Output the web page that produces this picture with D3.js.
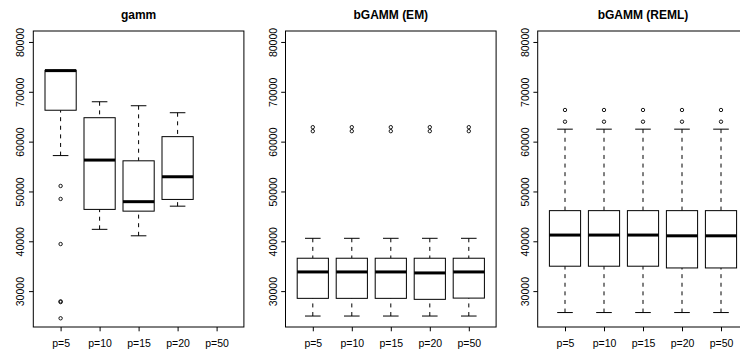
<!DOCTYPE html>
<html>
<head>
<meta charset="utf-8">
<script src="https://cdn.jsdelivr.net/npm/d3@7"></script>
<style>
body { margin: 0; background: #fff; }
text { font-family: "Liberation Sans", Arial, Helvetica, sans-serif; fill: #000; }
</style>
</head>
<body>
<div id="chart"></div>
<script>
var groups = ["p=5", "p=10", "p=15", "p=20", "p=50"];
var titles = ["gamm", "bGAMM (EM)", "bGAMM (REML)"];
var yTicks = [30000, 40000, 50000, 60000, 70000, 80000];
var yLimits = [25000, 80000];

// each box: [lower whisker, Q1, median, Q3, upper whisker], null = no data
var gammStats = [
    [57200, 66300, 74250, 74300, 74300],
    [42400, 46400, 56300, 64800, 68000],
    [41100, 46050, 47950, 56150, 67200],
    [47050, 48400, 52950, 61000, 65800],
    null
];
var gammOutliers = [[51100, 48500, 39450, 27800, 27950, 24550], [], [], [], []];

var emStats = [
    [25000, 28550, 33850, 36600, 40600],
    [25000, 28550, 33850, 36600, 40600],
    [25000, 28550, 33850, 36600, 40600],
    [25000, 28350, 33650, 36600, 40600],
    [25000, 28600, 33850, 36600, 40600]
];
var emOutliers = [[62900, 62100], [62900, 62100], [62900, 62100], [62900, 62100], [62900, 62100]];

var remlStats = [
    [25700, 35000, 41250, 46150, 62500],
    [25700, 35000, 41250, 46150, 62500],
    [25700, 35000, 41250, 46150, 62500],
    [25700, 34650, 41100, 46150, 62500],
    [25700, 34650, 41100, 46150, 62500]
];
var remlOutliers = [[64000, 66350], [64000, 66350], [64000, 66350], [64000, 66350], [64000, 66350]];

var panels = [
    {stats: gammStats, out: gammOutliers},
    {stats: emStats, out: emOutliers},
    {stats: remlStats, out: remlOutliers}
];

var width = 740, height = 354;
var panelStep = 252.2;
var margin = {left: 33.3, top: 31, bottom: 27};
var plotW = 210.6;
var tickLen = 4.3;

var svg = d3.select("#chart").append("svg")
    .attr("width", width)
    .attr("height", height);

// R style 4% extension of the limits
var ext = 0.04 * (yLimits[1] - yLimits[0]);
var yScale = d3.scaleLinear()
    .domain([yLimits[0] - ext, yLimits[1] + ext])
    .range([height - margin.bottom, margin.top]);

panels.forEach(function(p, k) {
    var x0 = k * panelStep + margin.left;
    var xScale = d3.scaleLinear()
        .domain([0.3, groups.length + 0.7])
        .range([x0, x0 + plotW]);
    var g = svg.append("g");

    g.append("text")
        .attr("x", x0 + plotW / 2)
        .attr("y", 18.5)
        .attr("text-anchor", "middle")
        .style("font-weight", "bold")
        .style("font-size", "12px")
        .text(titles[k]);

    var bw = xScale(0.4) - xScale(0);   // half box width
    var sw = xScale(0.2) - xScale(0);   // half staple width

    var boxes = g.selectAll(".bx")
        .data(p.stats.map(function(s, i) { return {s: s, i: i + 1}; })
            .filter(function(d) { return d.s; }))
        .enter().append("g");

    // whiskers (drawn from the staple towards the box)
    [[0, 1], [4, 3]].forEach(function(pair) {
        boxes.append("line")
            .attr("x1", function(d) { return xScale(d.i); })
            .attr("x2", function(d) { return xScale(d.i); })
            .attr("y1", function(d) { return yScale(d.s[pair[0]]); })
            .attr("y2", function(d) { return yScale(d.s[pair[1]]); })
            .attr("stroke", "#000")
            .attr("stroke-dasharray", "4,4.6");
        boxes.append("line")
            .attr("x1", function(d) { return xScale(d.i) - sw; })
            .attr("x2", function(d) { return xScale(d.i) + sw; })
            .attr("y1", function(d) { return yScale(d.s[pair[0]]); })
            .attr("y2", function(d) { return yScale(d.s[pair[0]]); })
            .attr("stroke", "#000");
    });

    boxes.append("rect")
        .attr("x", function(d) { return xScale(d.i) - bw; })
        .attr("y", function(d) { return yScale(d.s[3]); })
        .attr("width", 2 * bw)
        .attr("height", function(d) { return yScale(d.s[1]) - yScale(d.s[3]); })
        .attr("fill", "#fff")
        .attr("stroke", "#000");

    boxes.append("line")
        .attr("x1", function(d) { return xScale(d.i) - bw; })
        .attr("x2", function(d) { return xScale(d.i) + bw; })
        .attr("y1", function(d) { return yScale(d.s[2]); })
        .attr("y2", function(d) { return yScale(d.s[2]); })
        .attr("stroke", "#000")
        .attr("stroke-width", 3);

    // outliers
    var pts = [];
    p.out.forEach(function(o, i) {
        o.forEach(function(v) { pts.push([i + 1, v]); });
    });
    g.selectAll(".pt").data(pts).enter().append("circle")
        .attr("cx", function(d) { return xScale(d[0]); })
        .attr("cy", function(d) { return yScale(d[1]); })
        .attr("r", 1.7)
        .attr("fill", "none")
        .attr("stroke", "#000")
        .attr("stroke-width", 0.9);

    // frame
    g.append("rect")
        .attr("x", x0)
        .attr("y", margin.top)
        .attr("width", plotW)
        .attr("height", height - margin.bottom - margin.top)
        .attr("fill", "none")
        .attr("stroke", "#000");

    // axes
    var yAxis = d3.axisLeft(yScale)
        .tickValues(yTicks)
        .tickSize(tickLen)
        .tickFormat(d3.format("d"));
    var ya = g.append("g")
        .attr("transform", "translate(" + x0 + ",0)")
        .call(yAxis);
    ya.select(".domain").remove();
    ya.selectAll("text")
        .attr("transform", "rotate(-90)")
        .attr("x", 0)
        .attr("y", -9)
        .attr("dy", 0)
        .attr("text-anchor", "middle")
        .style("font-size", "10.5px")
        .style("font-family", "'Liberation Sans', Arial, sans-serif");

    var xAxis = d3.axisBottom(xScale)
        .tickValues(d3.range(1, groups.length + 1))
        .tickSize(tickLen)
        .tickFormat(function(d) { return groups[d - 1]; });
    var xa = g.append("g")
        .attr("transform", "translate(0," + (height - margin.bottom) + ")")
        .call(xAxis);
    xa.select(".domain").remove();
    xa.selectAll("text")
        .attr("y", 19.7)
        .attr("dy", 0)
        .style("font-size", "10.5px")
        .style("font-family", "'Liberation Sans', Arial, sans-serif");
    g.selectAll(".tick line").attr("stroke", "#000");
});
</script>
</body>
</html>
